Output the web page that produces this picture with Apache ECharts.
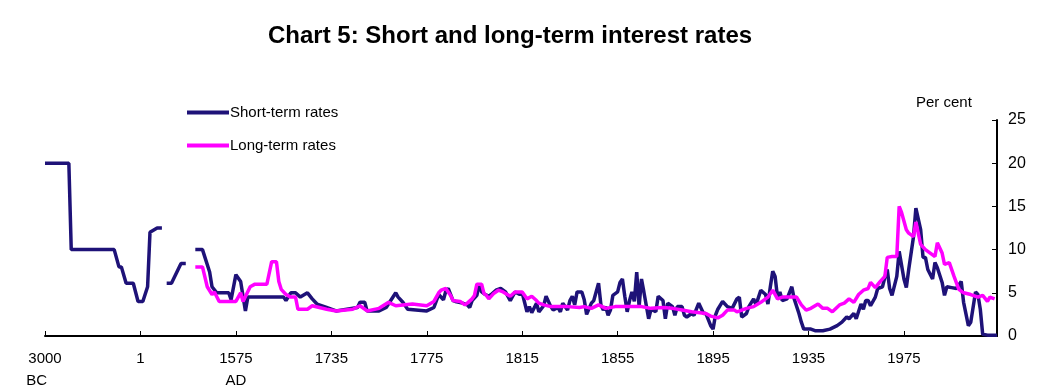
<!DOCTYPE html>
<html><head><meta charset="utf-8">
<script src="https://cdn.jsdelivr.net/npm/echarts@6/dist/echarts.min.js"></script>
<style>html,body{margin:0;padding:0;background:#fff}#c{width:1044px;height:392px}</style>
</head><body><div id="c"></div>
<script>
// x positions are slots on the chart's (non-linear) time axis: 40 slots between labelled ticks
const tickLabels = ['3000\nBC    ', '1', '1575\nAD', '1735', '1775', '1815', '1855', '1895', '1935', '1975'];
const tickSlots = [0, 40, 80, 120, 160, 200, 240, 280, 320, 360];
const lastSlot = 399;

const shortRates = [
[0,20],[10,20],[11,10],[29,10],[31,8],[32,8],[34,6.1],[37,6.1],[39,4],[41,4],[43,5.7],[44,12],[47,12.5],[49,12.5],[50,'-'],
[51,6.1],[53,6.1],[57,8.4],[59,8.4],[61,'-'],
[63,10],[66,10],[69,7.4],[70,5.7],[72,5],[77,5],[78,4.2],[80,7.1],[82,6.3],[84,2.9],[85,4.5],[100,4.5],[101,4.1],[103,5],[105,5],[107,4.5],[110,5],[112,4.3],[114,3.7],[118,3.3],[122,2.9],[131,3.3],[132,3.9],[134,3.9],[135,2.9],[140,2.9],[143,3.3],[147,5],[148,4.5],[150,3.9],[152,3.1],[160,2.9],[163,3.3],[165,4.8],
[167,4.2],[168,5.2],[169,5.5],[171,4.1],[172,4.0],[175,3.8],[177,3.6],[178,3.3],[179,4.1],[181,4.7],[182,6.0],[183,5.1],[184,4.9],[186,4.6],[187,4.8],[189,5.3],[191,5.5],[193,5.1],[195,4.1],[197,5.1],[199,4.8],[200,5.0],[202,2.8],[203,3.4],[204,2.7],[206,3.8],[207,2.8],[209,3.5],[210,4.6],[212,3.4],[213,3.0],[215,3.3],[216,2.8],[217,3.8],[219,3.0],[220,4.1],[221,4.6],[222,3.6],[223,5.1],[225,5.1],[226,4.2],[227,2.5],
[229,3.8],[230,4.1],[232,6.1],[233,3.6],[234,3.0],[235,3.4],[236,2.4],[237,3.0],[238,4.7],[240,5.1],[241,6.2],[242,6.6],[243,4.6],[244,2.8],[245,4.1],[246,5.1],[247,4.0],[248,7.4],[249,3.4],[250,6.6],[251,5.1],[253,2.0],[254,3.1],[256,2.8],[257,4.6],[259,4.1],[260,2.0],[261,3.8],[263,3.4],[264,2.4],[265,3.4],[267,3.4],[268,2.4],[269,2.2],[271,2.6],[272,2.4],[274,3.8],[276,2.6],[277,2.6],[279,1.2],[280,0.8],[281,2.4],[282,3.1],[284,4.0],[286,3.4],[288,3.2],
[290,4.3],[291,4.5],[292,2.2],[294,2.6],[295,3.4],[297,4.3],[298,3.6],[300,5.3],[302,4.8],[303,3.7],[304,5.7],[305,7.5],[306,6.9],[307,4.5],[308,5.1],[309,4.1],[311,4.3],[313,5.7],[314,4.3],[316,2.6],[317,1.6],[318,0.8],[321,0.8],[323,0.6],[326,0.6],[329,0.8],[332,1.2],[334,1.6],[336,2.2],[337,2.0],[339,2.6],[340,2.0],[342,3.7],[343,3.1],[344,4.1],[345,4.1],[346,3.5],
[348,4.5],[349,5.5],[351,5.7],[352,6.8],[353,7.7],[354,5.5],[355,4.7],[357,6.9],[358,9.8],[360,6.6],[361,5.6],[362,7.7],[364,11.5],[365,14.8],[367,12.3],[368,9.1],[369,9.1],[370,7.7],[372,6.6],[373,8.5],[374,7.9],[376,6.2],[377,4.7],[378,5.7],[380,5.6],[382,5.5],[384,6.3],[385,3.9],[387,1.2],[388,1.6],[390,5.1],[391,4.8],[392,3.1],[393,0.2],[395,0.1],[399,0.1]
];

const longRates = [
[63,8],[66,8],[68,5.7],[70,4.8],[71,5.1],[73,4],[80,4],[82,5],[83,4],[86,5.7],[88,6],[93,6],[95,8.6],[97,8.6],[98,6.3],[99,5.4],[101,4.8],[103,4.5],[105,4.5],[106,3.1],[110,3.1],[112,3.5],[118,3.1],[122,2.9],[129,3.1],[132,3.5],[135,2.9],[140,3.2],[144,3.9],[147,3.5],[154,3.7],[160,3.5],[163,4],[165,5],
[166,5.3],[168,5.5],[170,4.7],[171,4.1],[174,4.0],[176,3.6],[177,3.8],[179,4.3],[180,4.7],[181,6.0],[183,6.0],[184,4.9],[185,4.7],[186,4.3],[188,4.9],[190,5.3],[192,5.1],[195,4.6],[197,5.1],[200,5.1],[202,4.3],[204,4.6],[206,4.1],[207,3.8],[209,3.6],[212,3.4],[215,3.4],[219,3.4],[224,3.3],
[226,3.4],[229,3.2],[232,3.6],[235,3.2],[239,3.4],[244,3.4],[250,3.4],[254,3.2],[259,3.3],[263,3.2],[267,3.0],[271,2.8],[277,2.6],[279,2.3],[282,2.1],[284,2.4],[286,3.0],[289,3.0],
[290,2.8],[294,3.2],[297,3.4],[300,3.9],[303,4.5],[305,5.3],[307,4.3],[309,4.5],[315,4.5],[317,3.6],[319,3.0],[321,3.2],[324,3.7],[326,3.2],[328,3.2],[330,2.8],[333,3.6],[335,3.8],[337,4.3],[339,3.9],[341,4.8],[343,5.3],[345,5.5],[346,6.2],[348,5.6],[350,6.3],[352,6.9],[353,9.1],[355,9.2],[357,9.2],[358,15.0],[359,14.3],[361,12.3],[362,11.9],[364,11.5],[365,13.2],[367,10.6],[369,10.0],[371,9.6],[373,9.2],[374,10.8],[376,9.6],[377,8.3],[379,8.5],[381,6.9],[383,5.4],[385,5.0],[388,4.8],[391,4.5],[393,4.7],[395,4.0],[396,4.5],[398,4.3]
];

const yTicks = { min: 0, max: 25, interval: 5 };
const FONT = '"Liberation Sans", Arial, sans-serif';
const NAVY = '#1e1278';
const MAGENTA = '#ff00ff';

const chart = echarts.init(document.getElementById('c'), null, { renderer: 'canvas' });
chart.setOption({
  animation: false,
  backgroundColor: '#fff',
  textStyle: { fontFamily: FONT, color: '#000' },
  title: {
    text: 'Chart 5: Short and long-term interest rates',
    left: 268, top: 24, padding: 0,
    textStyle: { fontFamily: FONT, fontWeight: 'bold', fontSize: 24, color: '#000' }
  },
  graphic: [{
    type: 'text', left: 916, top: 95,
    style: { text: 'Per cent', font: '15px ' + FONT, fill: '#000' }
  }],
  legend: {
    orient: 'vertical', left: 187, top: 105, itemGap: 18, padding: 0,
    itemWidth: 42, itemHeight: 4, icon: 'rect',
    textStyle: { fontFamily: FONT, fontSize: 15, color: '#000', padding: [0, 0, 0, -4] },
    data: ['Short-term rates', 'Long-term rates']
  },
  grid: { left: 45, right: 47, top: 120, bottom: 55, containLabel: false },
  xAxis: {
    type: 'value', min: 0, max: lastSlot,
    splitLine: { show: false },
    axisLine: { show: true, onZero: false, lineStyle: { color: '#000', width: 2 } },
    axisTick: { show: true, inside: true, length: 5, customValues: tickSlots, lineStyle: { color: '#000', width: 1 } },
    axisLabel: {
      customValues: tickSlots, margin: 12, fontSize: 15, color: '#000', fontFamily: FONT, lineHeight: 22,
      formatter: v => tickLabels[tickSlots.indexOf(v)]
    }
  },
  yAxis: {
    type: 'value', position: 'right', min: yTicks.min, max: yTicks.max, interval: yTicks.interval,
    splitLine: { show: false },
    axisLine: { show: true, onZero: false, lineStyle: { color: '#000', width: 2 } },
    axisTick: { show: true, inside: true, length: 5, lineStyle: { color: '#000', width: 1 } },
    axisLabel: { margin: 11, fontSize: 16, color: '#000', fontFamily: FONT }
  },
  series: [
    { name: 'Short-term rates', type: 'line', data: shortRates, symbol: 'none', showSymbol: false,
      connectNulls: false, lineStyle: { color: NAVY, width: 3.5 }, itemStyle: { color: NAVY } },
    { name: 'Long-term rates', type: 'line', data: longRates, symbol: 'none', showSymbol: false,
      lineStyle: { color: MAGENTA, width: 3.5 }, itemStyle: { color: MAGENTA } }
  ]
});
</script></body></html>
